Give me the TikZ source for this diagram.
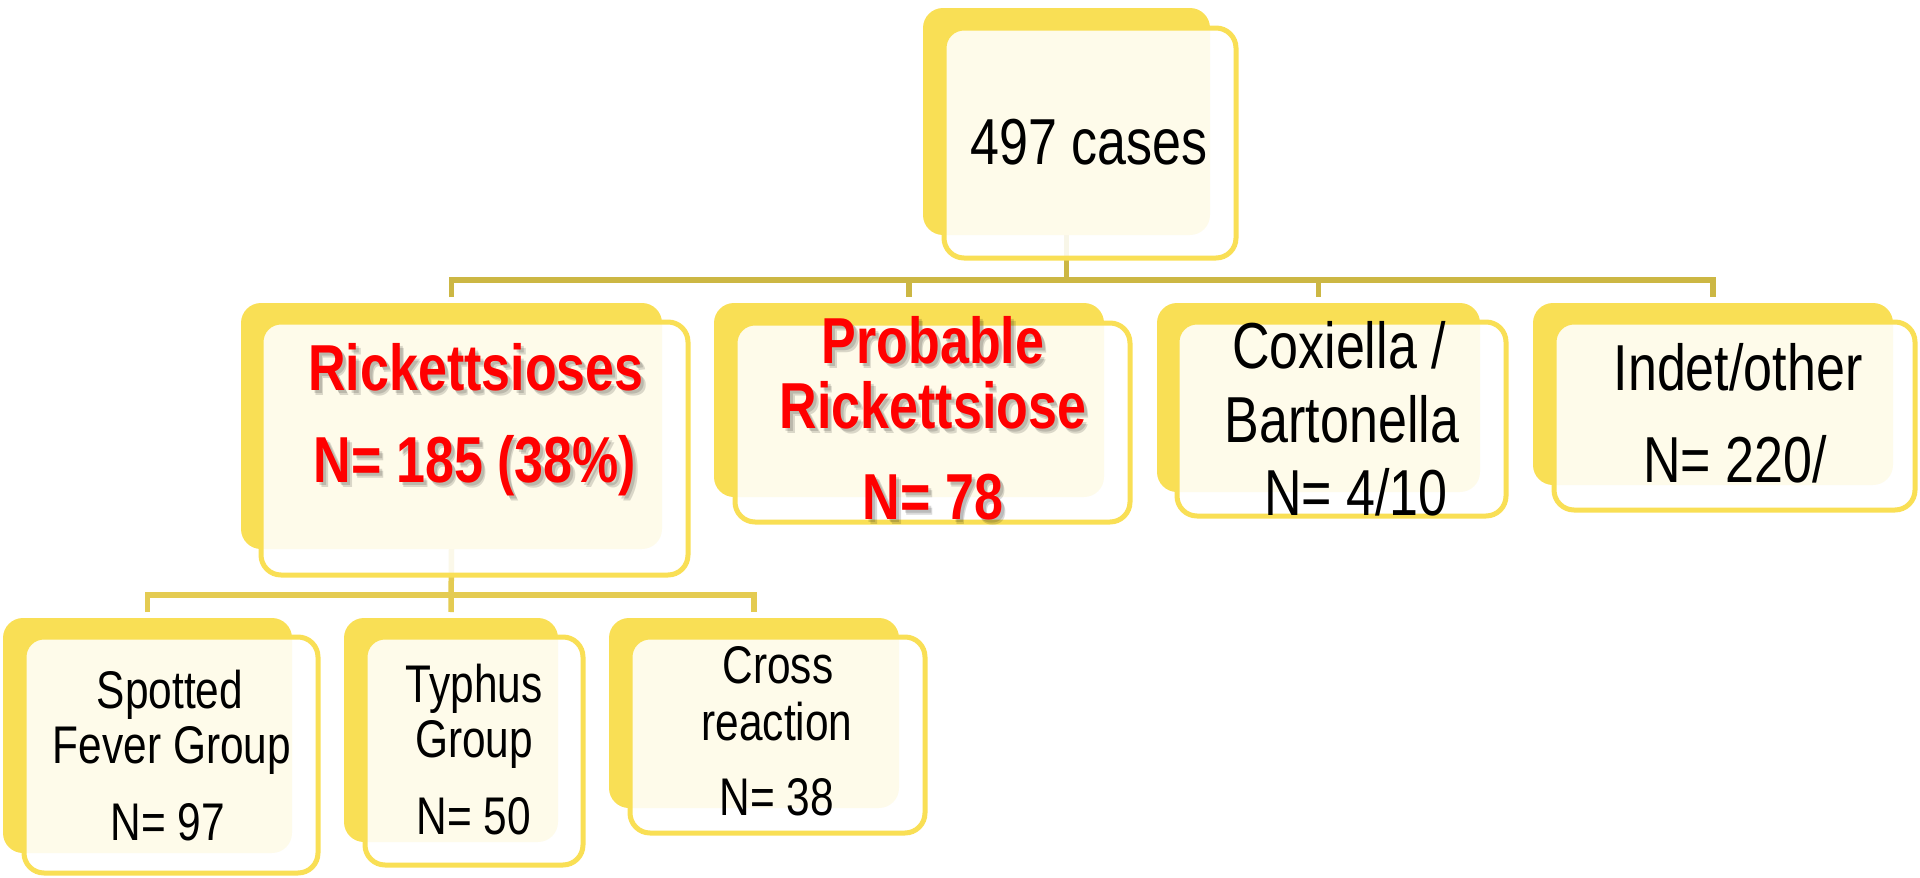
\documentclass[tikz,border=0pt]{standalone}
\usepackage{fontspec}
\newfontfamily\nf[FakeStretch=0.8]{Liberation Sans}
\pgfdeclarelayer{conn}
\pgfsetlayers{conn,main}
\definecolor{byel}{RGB}{249,223,85}
\definecolor{lineA}{RGB}{204,183,68}
\definecolor{lineB}{RGB}{228,203,82}
\definecolor{txtred}{RGB}{255,0,0}
\tikzset{
  backbox/.style={fill=byel, rounded corners=20pt, inner sep=0pt, outer sep=0pt},
  frontbox/.style={draw=byel, line width=5pt, fill=white, fill opacity=0.88, rounded corners=20pt, inner sep=0pt, outer sep=0pt},
  big/.style={anchor=base, inner sep=0pt, font=\nf\fontsize{65}{70}\selectfont},
  small/.style={anchor=base, inner sep=0pt, font=\nf\fontsize{53}{58}\selectfont},
  hot/.style={anchor=base, inner sep=0pt, font=\nf\bfseries\fontsize{65}{70}\selectfont, text=txtred},
  hotshadow/.style={hot, text=black, text opacity=0.14},
  connA/.style={draw=lineA, line width=5.5pt, line join=miter},
  connB/.style={draw=lineB, line width=5.5pt, line join=miter},
}
\begin{document}
\begin{tikzpicture}[x=1pt,y=-1pt]
\useasboundingbox (0,0) rectangle (1920,878);
% top box
\node[backbox, minimum width=287pt, minimum height=227pt] (topB) at (1066.5,121.5) {};
\node[frontbox, minimum width=292pt, minimum height=230pt] (topF) at (1090,143) {};
\node[big] (t1) at (1089,164) {497 cases};
% Rickettsioses
\node[backbox, minimum width=421pt, minimum height=246pt] (rickB) at (451.5,426) {};
\node[frontbox, minimum width=427pt, minimum height=253pt] (rickF) at (474.5,448.5) {};
\node[hotshadow] (r1s) at (479,393) {Rickettsioses};
\node[hotshadow] (r2s) at (478,485) {N= 185 (38\%)};
\node[hotshadow] (r1t) at (480.5,395) {Rickettsioses};
\node[hotshadow] (r2t) at (479.5,487) {N= 185 (38\%)};
\node[hot] (r1) at (476,390) {Rickettsioses};
\node[hot] (r2) at (475,482) {N= 185 (38\%)};
% Probable
\node[backbox, minimum width=390pt, minimum height=194pt] (probB) at (909,400) {};
\node[frontbox, minimum width=395pt, minimum height=199pt] (probF) at (932.5,422.5) {};
\node[hotshadow] (p1s) at (936,366) {Probable};
\node[hotshadow] (p2s) at (936,431) {Rickettsiose};
\node[hotshadow] (p3s) at (936,522) {N= 78};
\node[hotshadow] (p1t) at (937.5,368) {Probable};
\node[hotshadow] (p2t) at (937.5,433) {Rickettsiose};
\node[hotshadow] (p3t) at (937.5,524) {N= 78};
\node[hot] (p1) at (933,363) {Probable};
\node[hot] (p2) at (933,428) {Rickettsiose};
\node[hot] (p3) at (933,519) {N= 78};
% Coxiella
\node[backbox, minimum width=323pt, minimum height=189pt] (coxB) at (1318.5,397.5) {};
\node[frontbox, minimum width=329pt, minimum height=194pt] (coxF) at (1341.5,419) {};
\node[big] (c1) at (1339,368) {Coxiella /};
\node[big] (c2) at (1342,442) {Bartonella};
\node[big] (c3) at (1356,515) {N= 4/10};
% Indet
\node[backbox, minimum width=360pt, minimum height=182pt] (indB) at (1713,394) {};
\node[frontbox, minimum width=361pt, minimum height=188pt] (indF) at (1734.5,416) {};
\node[big] (i1) at (1738,390) {Indet/other};
\node[big] (i2) at (1735,482) {N= 220/};
% Spotted
\node[backbox, minimum width=289pt, minimum height=235pt] (spotB) at (147.5,735.5) {};
\node[frontbox, minimum width=294pt, minimum height=236pt] (spotF) at (171,755) {};
\node[small] (s1) at (170,708) {Spotted};
\node[small] (s2) at (172,763) {Fever Group};
\node[small] (s3) at (168,840) {N= 97};
% Typhus
\node[backbox, minimum width=214pt, minimum height=224pt] (typB) at (451,730) {};
\node[frontbox, minimum width=218pt, minimum height=228pt] (typF) at (474,751) {};
\node[small] (y1) at (474,702) {Typhus};
\node[small] (y2) at (474,757) {Group};
\node[small] (y3) at (474,834) {N= 50};
% Cross
\node[backbox, minimum width=290pt, minimum height=190pt] (crossB) at (754,713) {};
\node[frontbox, minimum width=295pt, minimum height=196pt] (crossF) at (777.5,735) {};
\node[small] (x1) at (778,683) {Cross};
\node[small] (x2) at (777,740) {reaction};
\node[small] (x3) at (777,815) {N= 38};
% connectors
\begin{pgfonlayer}{conn}
\coordinate (bus1) at (0,280);
\coordinate (bus2) at (0,595);
\draw[connA] (topB.south) -- (topB.south |- bus1);
\draw[connA] ([yshift=6pt]rickB.north) -- (rickB.north |- bus1) -- (indB.north |- bus1) -- ([yshift=6pt]indB.north);
\draw[connA] (probB.north |- bus1) -- ([yshift=6pt]probB.north);
\draw[connA] (coxB.north |- bus1) -- ([yshift=6pt]coxB.north);
\draw[connB] (rickB.south) -- ([yshift=6pt]typB.north);
\draw[connB] ([yshift=6pt]spotB.north) -- (spotB.north |- bus2) -- (crossB.north |- bus2) -- ([yshift=6pt]crossB.north);
\end{pgfonlayer}
\end{tikzpicture}
\end{document}
